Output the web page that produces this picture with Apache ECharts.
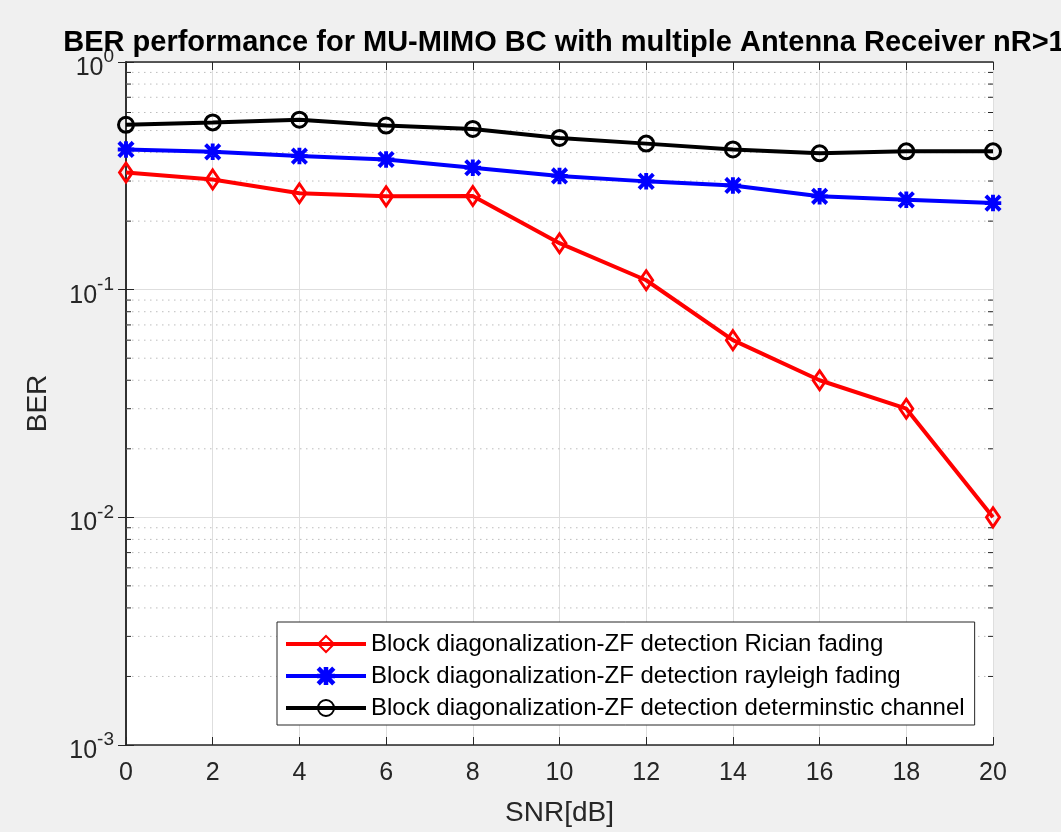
<!DOCTYPE html>
<html>
<head>
<meta charset="utf-8">
<script src="https://cdn.jsdelivr.net/npm/echarts@6/dist/echarts.min.js"></script>
<style>
html,body{margin:0;padding:0;background:#f0f0f0;}
#chart{width:1061px;height:832px;}
</style>
</head>
<body>
<div id="chart"></div>
<script>
// ---- data ----
var snr = [0, 2, 4, 6, 8, 10, 12, 14, 16, 18, 20];
var berRician = [0.327, 0.305, 0.265, 0.257, 0.258, 0.160, 0.110, 0.060, 0.040, 0.030, 0.010];
var berRayleigh = [0.413, 0.403, 0.386, 0.373, 0.343, 0.316, 0.299, 0.287, 0.257, 0.248, 0.240];
var berDeterministic = [0.530, 0.543, 0.558, 0.526, 0.508, 0.464, 0.438, 0.413, 0.397, 0.405, 0.405];
var seriesNames = [
  'Block diagonalization-ZF detection Rician fading',
  'Block diagonalization-ZF detection rayleigh fading',
  'Block diagonalization-ZF detection determinstic channel'
];
var xTicks = [0, 2, 4, 6, 8, 10, 12, 14, 16, 18, 20];
var yMajorTicks = [0.001, 0.01, 0.1, 1];
var yMinorTicks = [0.002, 0.003, 0.004, 0.005, 0.006, 0.007, 0.008, 0.009,
                   0.02, 0.03, 0.04, 0.05, 0.06, 0.07, 0.08, 0.09,
                   0.2, 0.3, 0.4, 0.5, 0.6, 0.7, 0.8, 0.9];

var FONT = "'Liberation Sans', Arial, Helvetica, sans-serif";
var AX = '#262626';

function pairs(ys) { return snr.map(function (x, i) { return [x, ys[i]]; }); }

var asterisk = 'path://M0,8.4 L20,8.4 L20,11.6 L0,11.6 Z M8.4,0 L11.6,0 L11.6,20 L8.4,20 Z M2.3,0 L20,17.7 L17.7,20 L0,2.3 Z M17.7,0 L20,2.3 L2.3,20 L0,17.7 Z';

var chart = echarts.init(document.getElementById('chart'), null, {renderer: 'canvas'});
var option = {
  backgroundColor: '#f0f0f0',
  animation: false,
  title: {
    text: 'BER performance for MU-MIMO BC with multiple Antenna Receiver nR>1',
    left: 559, top: 23, textAlign: 'center',
    textStyle: {fontFamily: FONT, fontWeight: 'bold', fontSize: 29, color: '#000'}
  },
  grid: {left: 126, right: 68, top: 62, bottom: 83, show: true, backgroundColor: '#fff', borderWidth: 0},
  legend: {
    orient: 'vertical', left: 277, top: 622,
    data: seriesNames,
    backgroundColor: '#fff', borderColor: AX, borderWidth: 1,
    padding: [10, 10, 5, 7],
    itemWidth: 80, itemHeight: 20, itemGap: 8,
    lineStyle: {width: 4},
    textStyle: {fontFamily: FONT, fontSize: 24, color: '#000', lineHeight: 24}
  },
  xAxis: [{
    type: 'value', min: 0, max: 20, interval: 2, position: 'bottom',
    name: 'SNR[dB]', nameLocation: 'middle', nameGap: 54,
    nameTextStyle: {fontFamily: FONT, fontSize: 28, color: '#262626'},
    axisLine: {show: true, lineStyle: {color: AX, width: 1.5}},
    axisTick: {show: true, inside: true, length: 8, lineStyle: {color: AX}},
    axisLabel: {show: true, margin: 16, fontFamily: FONT, fontSize: 25, color: '#262626',
      formatter: function (v) { return xTicks.indexOf(v) >= 0 ? String(v) : ''; }},
    splitLine: {show: true, lineStyle: {color: '#dedede', width: 1}}
  }, {
    type: 'value', min: 0, max: 20, interval: 2, position: 'top',
    axisLine: {show: true, lineStyle: {color: AX, width: 1.5}},
    axisTick: {show: true, inside: true, length: 8, lineStyle: {color: AX}},
    axisLabel: {show: false},
    splitLine: {show: false}
  }],
  yAxis: [{
    type: 'log', logBase: 10, min: 0.001, max: 1, position: 'left',
    name: 'BER', nameLocation: 'middle', nameGap: 74, nameRotate: 90,
    nameTextStyle: {fontFamily: FONT, fontSize: 28, color: '#262626'},
    axisLine: {show: true, lineStyle: {color: AX, width: 1.5}},
    axisTick: {show: true, inside: true, length: 8, lineStyle: {color: AX}},
    minorTick: {show: false},
    axisLabel: {
      show: true, margin: 12, color: '#262626',
      formatter: function (v) {
        var e = Math.round(Math.log(v) / Math.LN10);
        return '{b|10}{s|' + e + '}';
      },
      rich: {
        b: {fontFamily: FONT, fontSize: 25, lineHeight: 25, padding: [12, 0, 0, 0], color: '#262626'},
        s: {fontFamily: FONT, fontSize: 19, lineHeight: 19, padding: [0, 0, 10, 0], color: '#262626'}
      }
    },
    splitLine: {show: true, lineStyle: {color: '#dedede', width: 1}}
  }, {
    type: 'log', logBase: 10, min: 0.001, max: 1, position: 'right',
    axisLine: {show: true, lineStyle: {color: AX, width: 1.5}},
    axisTick: {show: true, inside: true, length: 8, lineStyle: {color: AX}},
    axisLabel: {show: false},
    splitLine: {show: false}
  }],
  series: [{
    type: 'custom', name: 'minor', xAxisIndex: 0, yAxisIndex: 0, silent: true, z: 1,
    data: yMinorTicks.map(function (v) { return [0, v]; }),
    renderItem: function (params, api) {
      var y = api.value(1);
      var p0 = api.coord([0, y]);
      var p1 = api.coord([20, y]);
      return {
        type: 'group',
        children: [{
          type: 'line',
          shape: {x1: p0[0], y1: p0[1], x2: p1[0], y2: p1[1]},
          style: {stroke: '#bdbdbd', lineWidth: 1, lineDash: [1.5, 4.5]}
        }, {
          type: 'line',
          shape: {x1: p0[0], y1: p0[1], x2: p0[0] + 5, y2: p0[1]},
          style: {stroke: AX, lineWidth: 1}
        }, {
          type: 'line',
          shape: {x1: p1[0] - 5, y1: p1[1], x2: p1[0], y2: p1[1]},
          style: {stroke: AX, lineWidth: 1}
        }]
      };
    }
  }, {
    type: 'line', name: seriesNames[0], data: pairs(berRician), z: 5,
    symbol: 'diamond', symbolSize: [13, 19],
    lineStyle: {color: '#ff0000', width: 4},
    itemStyle: {color: 'rgba(255,0,0,0)', borderColor: '#ff0000', borderWidth: 3}
  }, {
    type: 'line', name: seriesNames[1], data: pairs(berRayleigh), z: 5,
    symbol: asterisk, symbolSize: 15,
    lineStyle: {color: '#0000ff', width: 4},
    itemStyle: {color: '#0000ff', borderColor: '#0000ff', borderWidth: 1.5}
  }, {
    type: 'line', name: seriesNames[2], data: pairs(berDeterministic), z: 5,
    symbol: 'circle', symbolSize: 15,
    lineStyle: {color: '#000000', width: 4},
    itemStyle: {color: 'rgba(0,0,0,0)', borderColor: '#000000', borderWidth: 3}
  }]
};
chart.setOption(option);
</script>
</body>
</html>
